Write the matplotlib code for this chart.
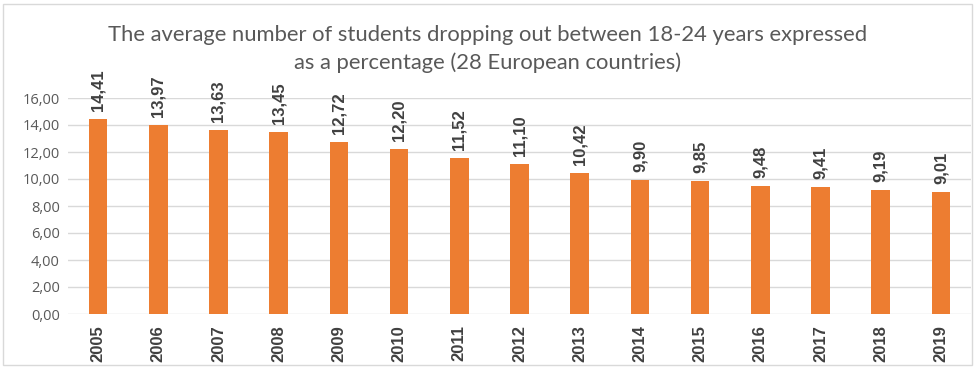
import matplotlib
matplotlib.use("Agg")
import matplotlib.pyplot as plt
from matplotlib.patches import Rectangle

years = ["2005", "2006", "2007", "2008", "2009", "2010", "2011", "2012",
         "2013", "2014", "2015", "2016", "2017", "2018", "2019"]
values = [14.41, 13.97, 13.63, 13.45, 12.72, 12.20, 11.52, 11.10,
          10.42, 9.90, 9.85, 9.48, 9.41, 9.19, 9.01]
yticks = [0, 2, 4, 6, 8, 10, 12, 14, 16]
title = "The average number of students dropping out between 18-24 years expressed\nas a percentage (28 European countries)"

fig = plt.figure(figsize=(9.75, 3.69), dpi=100)
ax = fig.add_axes([68/975, 1 - 314/369, 903/975, 216/369])

x = list(range(len(years)))
ax.bar(x, values, width=0.31, color="#ED7D31", zorder=3)
ax.set_xlim(-0.5, len(years) - 0.5)
ax.set_ylim(0, 16)
ax.set_yticks(yticks)
ax.set_yticklabels([f"{v:.2f}".replace(".", ",") for v in yticks],
                   color="#595959", fontsize=10.5, family="Open Sans")
ax.set_xticks(x)
ax.set_xticklabels(years, rotation=90, fontweight="bold", fontsize=12,
                   color="#404040", family="Liberation Sans")
ax.tick_params(axis="x", length=0, pad=8)
ax.tick_params(axis="y", length=0, pad=6)
ax.grid(axis="y", color="#D9D9D9", linewidth=1, zorder=0)
for s in ax.spines.values():
    s.set_visible(False)

for xi, v in zip(x, values):
    ax.annotate(f"{v:.2f}".replace(".", ","), (xi, v), xytext=(0, 6),
                textcoords="offset points", rotation=90,
                ha="center", va="bottom", fontsize=12, fontweight="bold",
                color="#404040", family="Liberation Sans")

fig.text(0.5, 1 - 49/369, title, ha="center", va="center", fontsize=15.8,
         color="#595959", family="Lato", linespacing=1.4)

fig.patches.append(Rectangle((3/975, 4/369), 969/975, 361/369,
                             transform=fig.transFigure, fill=False,
                             edgecolor="#D9D9D9", linewidth=1))
fig.savefig("out.png", dpi=100)
